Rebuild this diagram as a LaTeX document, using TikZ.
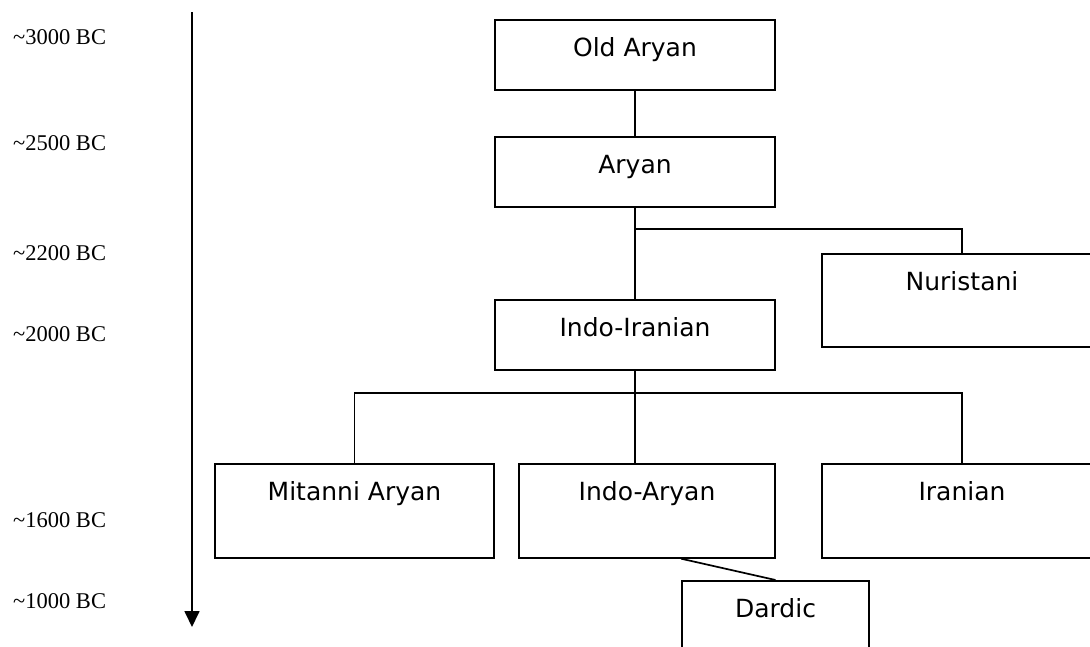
\documentclass[tikz,border=0pt]{standalone}
\usepackage{fontspec}
\setmainfont{Liberation Serif}
\newfontfamily\boxfont{DejaVu Sans}
\usetikzlibrary{arrows.meta}
\tikzset{
  lang/.style={draw, line width=1.7pt, rectangle, anchor=north, inner sep=0pt,
    font=\boxfont\fontsize{25}{30}\selectfont, text height=37pt},
  short/.style={lang, text depth=33pt},
  tall/.style={lang, text depth=57pt},
  conn/.style={line width=1.7pt},
  era/.style={anchor=west, inner sep=0pt, font=\fontsize{22.5}{27}\selectfont},
}
\begin{document}
\begin{tikzpicture}[x=1pt,y=-1pt]
\useasboundingbox (0,0) rectangle (1090,646);
\clip (0,0) rectangle (1090,646);
% era labels
\node[era] (e3000) at (13,37) {\textasciitilde3000 BC};
\node[era] (e2500) at (13,143) {\textasciitilde2500 BC};
\node[era] (e2200) at (13,253) {\textasciitilde2200 BC};
\node[era] (e2000) at (13,334) {\textasciitilde2000 BC};
\node[era] (e1600) at (13,520) {\textasciitilde1600 BC};
\node[era] (e1000) at (13,601) {\textasciitilde1000 BC};
% time arrow
\coordinate (t0) at (192,12);
\coordinate (t1) at (192,627);
\draw[line width=1.7pt, -{Triangle[width=15pt,length=16pt]}] (t0) -- (t1);
% boxes
\node[short, minimum width=280pt] (oldaryan) at (635,19) {Old Aryan};
\node[short, minimum width=280pt] (aryan) at (635,136) {Aryan};
\node[short, minimum width=280pt] (indoiranian) at (635,299) {Indo-Iranian};
\node[tall, minimum width=280pt, text depth=56pt] (nuristani) at (962,253) {Nuristani};
\node[tall, minimum width=279pt] (mitanni) at (354.5,463) {Mitanni Aryan};
\node[tall, minimum width=256pt] (indoaryan) at (647,463) {Indo-Aryan};
\node[tall, minimum width=280pt] (iranian) at (962,463) {Iranian};
\node[tall, minimum width=187pt] (dardic) at (775.5,580) {Dardic};
% connectors
\coordinate (b1) at (635,229);
\coordinate (b2) at (635,393);
\draw[conn] (oldaryan.south) -- (aryan.north);
\draw[conn] (aryan.south) -- (indoiranian.north);
\draw[conn] (b1) -| (nuristani.north);
\draw[conn] (indoiranian.south) -- (indoiranian.south |- indoaryan.north);
\draw[conn] (mitanni.north) -- (mitanni.north |- b2) -- (iranian.north |- b2) -- (iranian.north);
\draw[conn] (dardic.north west |- indoaryan.south) -- (dardic.north);
\end{tikzpicture}
\end{document}
